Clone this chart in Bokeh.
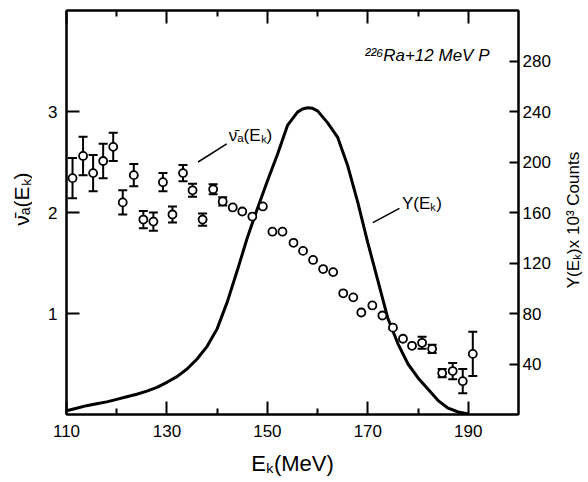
import math
from bokeh.plotting import figure
from bokeh.layouts import row
from bokeh.models import (Range1d, LinearAxis, FixedTicker, Label, ColumnDataSource,
                          Whisker, TeeHead)
from bokeh.embed import file_html
from bokeh.resources import INLINE

# ---- data ----
energy = [111.2, 113.3, 115.3, 117.3, 119.3, 121.2, 123.4, 125.3, 127.3, 129.2,
          131.1, 133.2, 135.1, 137.1, 139.2, 141.1, 143.1, 145.0, 147.0, 149.1,
          151.0, 153.0, 155.2, 157.1, 159.1, 161.1, 163.1, 165.1, 167.1, 168.7,
          170.9, 172.9, 175.0, 177.0, 178.8, 180.8, 182.8, 184.8, 186.9, 188.9,
          190.9]
nu_bar = [2.34, 2.56, 2.39, 2.51, 2.65, 2.10, 2.37, 1.93, 1.91, 2.30,
          1.98, 2.39, 2.22, 1.93, 2.23, 2.11, 2.05, 2.01, 1.96, 2.06,
          1.81, 1.81, 1.70, 1.62, 1.53, 1.44, 1.41, 1.20, 1.16, 1.01,
          1.08, 0.98, 0.86, 0.75, 0.68, 0.71, 0.65, 0.41, 0.43, 0.33,
          0.60]
nu_err = [0.20, 0.19, 0.18, 0.17, 0.14, 0.12, 0.11, 0.085, 0.09, 0.09,
          0.08, 0.08, 0.065, 0.06, 0.05, 0.04, 0, 0, 0, 0,
          0, 0, 0, 0, 0, 0, 0, 0, 0, 0,
          0, 0, 0, 0, 0, 0.06, 0.04, 0.04, 0.08, 0.12,
          0.22]

curve_energy = [110, 112, 114, 116, 118, 120, 122, 124, 126, 128, 130, 132, 134,
                136, 138, 140, 142, 144, 146, 148, 150, 152, 154, 156, 157, 158,
                159, 160, 162, 164, 166, 168, 170, 172, 174, 176, 178, 180, 182,
                184, 186, 188, 190]
curve_counts = [3, 5, 7, 8.5, 10, 12, 14, 16, 18.5, 21.5, 25.5, 30, 36,
                44, 54, 68, 89, 114, 140, 163, 185, 206, 229, 239.5, 242, 243,
                242.5, 240.5, 231, 219.5, 197, 168, 136, 106, 76, 56, 40, 29, 20,
                11, 5, 2, 0.5]

x_ticks = [110, 130, 150, 170, 190]
x_minor_ticks = [120, 140, 160, 180]
left_ticks = [1, 2, 3]
right_ticks = [40, 80, 120, 160, 200, 240, 280]

# annotation anchors (data units: MeV, nu)
nu_leader_x = [136.2, 141.9]
nu_leader_y = [2.50, 2.68]
y_leader_x = [171.0, 176.3]
y_leader_y = [1.90, 2.04]

FONT = "Liberation Sans"

p = figure(width=522, height=482, x_range=Range1d(110, 200), y_range=Range1d(0, 4),
           output_backend="svg", toolbar_location=None,
           min_border_left=34, min_border_right=36, min_border_top=10,
           min_border_bottom=68, background_fill_color="white",
           border_fill_color="white")
p.extra_y_ranges = {"counts": Range1d(0, 320)}
p.xgrid.visible = False
p.ygrid.visible = False
p.outline_line_color = "black"
p.outline_line_width = 2


def style_axis(ax):
    ax.axis_line_width = 2
    ax.axis_line_color = "black"
    ax.major_tick_line_width = 2
    ax.minor_tick_line_width = 2
    ax.major_tick_out = 0
    ax.minor_tick_out = 0
    ax.major_label_text_font = FONT
    ax.major_label_text_font_size = "17px"
    ax.major_label_text_color = "black"
    ax.axis_label_text_font = FONT
    ax.axis_label_text_font_style = "normal"
    ax.axis_label_text_font_size = "22px"
    ax.axis_label_text_color = "black"


# bottom axis
xa = p.xaxis[0]
style_axis(xa)
xa.ticker = FixedTicker(ticks=x_ticks, minor_ticks=x_minor_ticks)
xa.major_tick_in = 13
xa.minor_tick_in = 6
xa.major_label_standoff = 10
xa.axis_label = "E\u2096(MeV)"
xa.axis_label_standoff = 11

# top axis (ticks only, no labels)
top = LinearAxis(ticker=FixedTicker(ticks=x_ticks, minor_ticks=x_minor_ticks))
style_axis(top)
top.major_tick_in = 13
top.minor_tick_in = 6
top.major_label_overrides = {t: "" for t in x_ticks}
top.major_label_standoff = 0
p.add_layout(top, "above")

# left axis (title drawn in the strip to the left)
ya = p.yaxis[0]
style_axis(ya)
ya.ticker = FixedTicker(ticks=left_ticks, minor_ticks=[])
ya.major_tick_in = 13
ya.major_label_standoff = 9

# right axis (title drawn in the strip to the right)
ra = LinearAxis(y_range_name="counts", ticker=FixedTicker(ticks=right_ticks, minor_ticks=[]))
style_axis(ra)
ra.major_tick_in = 9
ra.major_label_standoff = 4
p.add_layout(ra, "right")

# yield curve
p.line(curve_energy, curve_counts, y_range_name="counts", line_color="black",
       line_width=3)

# error bars
eb_x = [e for e, d in zip(energy, nu_err) if d > 0]
eb_lo = [v - d for v, d in zip(nu_bar, nu_err) if d > 0]
eb_hi = [v + d for v, d in zip(nu_bar, nu_err) if d > 0]
eb_src = ColumnDataSource(dict(x=eb_x, lower=eb_lo, upper=eb_hi))
wh = Whisker(source=eb_src, base="x", lower="lower", upper="upper",
             line_color="black", line_width=2,
             upper_head=TeeHead(size=9, line_width=2, line_color="black"),
             lower_head=TeeHead(size=9, line_width=2, line_color="black"))
p.add_layout(wh)

# data points
p.scatter(energy, nu_bar, marker="circle", size=8, fill_color="white",
          line_color="black", line_width=1.8)

# leader lines
p.line(nu_leader_x, nu_leader_y, line_color="black", line_width=1.5)
p.line(y_leader_x, y_leader_y, line_color="black", line_width=1.5)

# in-plot labels
p.add_layout(Label(x=142.3, y=2.76, text="\u03bd\u0304\u2090(E\u2096)", text_font=FONT,
                   text_font_size="17px", text_baseline="middle", text_align="left",
                   text_color="black"))
p.add_layout(Label(x=176.8, y=2.09, text="Y(E\u2096)", text_font=FONT,
                   text_font_size="17px", text_baseline="middle", text_align="left",
                   text_color="black"))
p.add_layout(Label(x=169.4, y=3.55, text="\u00b2\u00b2\u2076Ra+12 MeV P", text_font=FONT,
                   text_font_size="17px", text_font_style="italic",
                   text_baseline="middle", text_align="left", text_color="black"))


def title_strip(width, text, x, y, size):
    s = figure(width=width, height=482, x_range=Range1d(0, width), y_range=Range1d(0, 482),
               output_backend="svg", toolbar_location=None, min_border=0,
               outline_line_color=None, background_fill_color="white",
               border_fill_color="white")
    s.axis.visible = False
    s.grid.visible = False
    s.add_layout(Label(x=x, y=y, text=text, text_font=FONT, text_font_size=size,
                       angle=math.pi / 2, text_align="center", text_baseline="middle",
                       text_color="black"))
    return s


left_strip = title_strip(32, "\u03bd\u0304\u2090(E\u2096)", 21, 257, "21px")
right_strip = title_strip(34, "Y(E\u2096)x 10\u00b3 Counts", 19, 232, "17px")

layout = row(left_strip, p, right_strip, spacing=0)
open("out.html", "w").write(file_html(layout, INLINE))
